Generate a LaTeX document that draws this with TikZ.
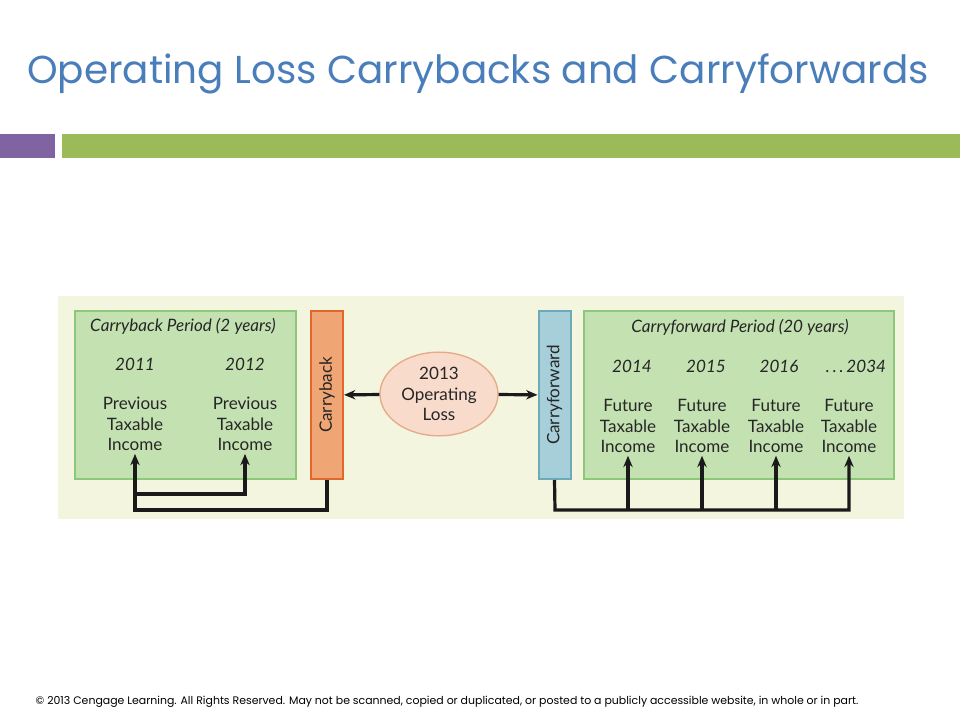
\documentclass[tikz,border=0pt]{standalone}
\usepackage{fontspec}
\setmainfont{Lato}
\newfontfamily\titlefont{Poppins}
\usetikzlibrary{positioning,shapes.geometric,arrows.meta}

\definecolor{titleblue}{HTML}{4A7EBB}
\definecolor{barpurple}{HTML}{8064A2}
\definecolor{bargreen}{HTML}{9BBB59}
\definecolor{panelcream}{HTML}{F3F5DF}
\definecolor{periodfill}{HTML}{C4E1B2}
\definecolor{periodline}{HTML}{8CC77A}
\definecolor{backfill}{HTML}{EFA574}
\definecolor{backline}{HTML}{E2672B}
\definecolor{forwardfill}{HTML}{A7CFD9}
\definecolor{forwardline}{HTML}{6CAAB9}
\definecolor{lossfill}{HTML}{F8DBCB}
\definecolor{lossline}{HTML}{E6A98A}
\definecolor{arrowblack}{HTML}{1A1A1A}

\begin{document}
\begin{tikzpicture}[x=0.75pt,y=-0.75pt,>={Stealth[length=8.5pt,width=7pt]},
		period box/.style={draw=periodline,fill=periodfill,line width=1.5pt,minimum height=126pt},
		bar node/.style={line width=1.5pt,minimum width=24pt,minimum height=126pt},
		text node/.style={align=center,font=\fontsize{12.8}{15.5}\selectfont,text=black!85,inner sep=2pt},
		year node/.style={font=\fontsize{12.8}{15}\selectfont\itshape,text=black!85},
		link/.style={draw=arrowblack,line width=2.4pt}]
		\useasboundingbox (0,0) rectangle (960,720);
		% Kopf
		\node[text=titleblue,font=\titlefont\fontsize{29.2}{35}\selectfont] (title) at (478,74) {Operating Loss Carrybacks and Carryforwards};
		\fill[barpurple] (0,134) rectangle (55,158);
		\fill[bargreen] (62,134) rectangle (960,158);
		% Grafik
		\fill[panelcream] (58,296) rectangle (904,519);
		\node[period box,minimum width=165.75pt] (back) at (185.5,395) {};
		\node[bar node,draw=backline,fill=backfill] (cb) at (327,395) {};
		\node[rotate=90,text node] at (cb) {Carryback};
		\node[ellipse,draw=lossline,fill=lossfill,line width=1pt,minimum width=88.5pt,minimum height=51pt,text node] (loss) at (439,394) {2013\\Operating\\Loss};
		\node[bar node,draw=forwardline,fill=forwardfill] (cf) at (554.5,395) {};
		\node[rotate=90,text node] at (cf) {Carryforward};
		\node[period box,minimum width=232.5pt] (fwd) at (739,395) {};
		% Rückwärts
		\node[year node] at (183,326) {Carryback Period (2 years)};
		\node[year node] (y1) at (135,364) {2011};
		\node[year node] (y2) at (245,364) {2012};
		\node[text node] (inc1) at (135,424) {Previous\\Taxable\\Income};
		\node[text node] (inc2) at (245,424) {Previous\\Taxable\\Income};
		% Vorwärts
		\node[year node] at (740,327) {Carryforward Period (20 years)};
		\node[year node] (y3) at (632,366) {2014};
		\node[year node] (y4) at (706,366) {2015};
		\node[year node] (y5) at (779,366) {2016};
		\node[year node] (y6) at (856,366) {.\,.\,.\,2034};
		\node[text node] (fut1) at (628,426) {Future\\Taxable\\Income};
		\node[text node] (fut2) at (702,426) {Future\\Taxable\\Income};
		\node[text node] (fut3) at (776,426) {Future\\Taxable\\Income};
		\node[text node] (fut4) at (849,426) {Future\\Taxable\\Income};
		% Pfeile
		\coordinate (cbturn) at (327,510);
		\coordinate (cbsplit) at (135,494);
		\coordinate (cfturn) at (555,510);
		\draw[link,->] (loss) -- (cb);
		\draw[link,->] (loss) -- (cf);
		\draw[link,->] (cb.south) -- (cbturn) -| (inc1.south);
		\draw[link,->] (cbsplit) -| (inc2.south);
		\draw[link,->] (cf.south) -- (cfturn) -| (fut4.south);
		\foreach \f in {fut1,fut2,fut3}
		\draw[link,->] (\f.south |- cfturn) -- (\f.south);
		% Fuss
		\node[anchor=west,font=\titlefont\fontsize{8.2}{10}\selectfont] (foot) at (31,702) {© 2013 Cengage Learning. All Rights Reserved. May not be scanned, copied or duplicated, or posted to a publicly accessible website, in whole or in part.};
\end{tikzpicture}
\end{document}
